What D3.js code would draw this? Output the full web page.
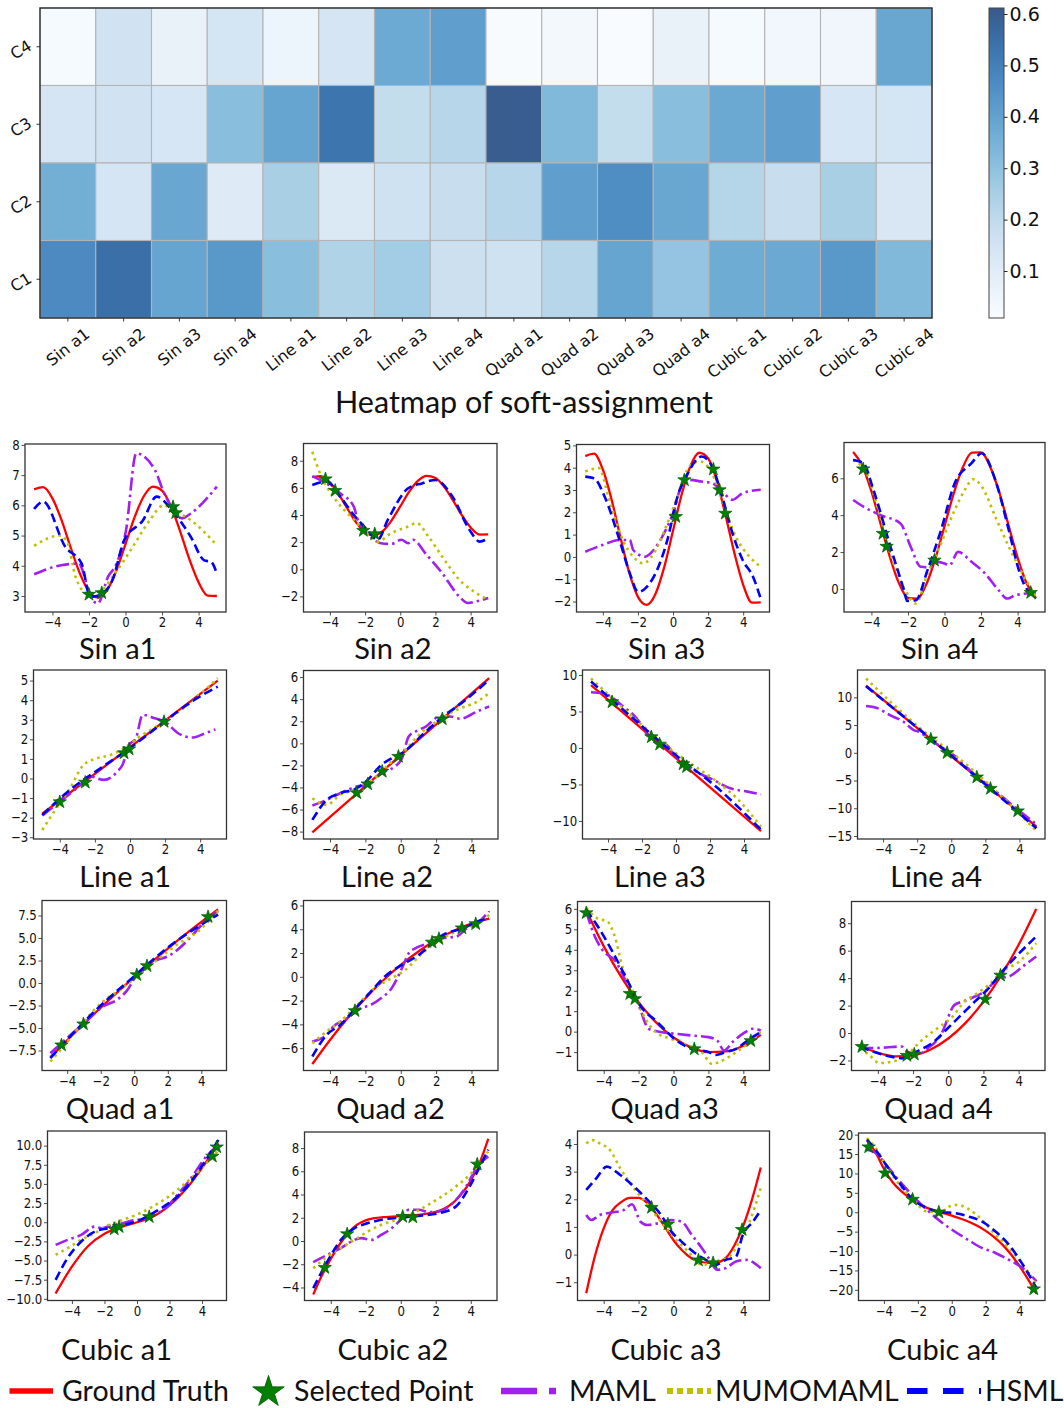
<!DOCTYPE html>
<html><head><meta charset="utf-8">
<script src="https://cdn.jsdelivr.net/npm/d3@7"></script>
<style>body{margin:0;background:#fff}</style>
</head><body><svg id="chart" width="1064" height="1408"></svg>
<script>
// ---------------- Heatmap data ----------------
const heatCols = ["Sin a1","Sin a2","Sin a3","Sin a4","Line a1","Line a2","Line a3","Line a4","Quad a1","Quad a2","Quad a3","Quad a4","Cubic a1","Cubic a2","Cubic a3","Cubic a4"];
const heatRows = ["C4","C3","C2","C1"];
const heatC4 = [0.02,0.155,0.07,0.145,0.05,0.14,0.375,0.41,0.015,0.03,0.012,0.07,0.02,0.035,0.04,0.385];
const heatC3 = [0.14,0.155,0.135,0.31,0.39,0.53,0.19,0.22,0.60,0.33,0.19,0.31,0.38,0.41,0.135,0.145];
const heatC2 = [0.36,0.14,0.385,0.11,0.25,0.12,0.16,0.18,0.22,0.41,0.46,0.385,0.225,0.18,0.25,0.13];
const heatC1 = [0.47,0.55,0.39,0.43,0.31,0.235,0.26,0.17,0.16,0.22,0.39,0.29,0.37,0.38,0.43,0.33];
const cbarTicks = [0.1,0.2,0.3,0.4,0.5,0.6];
const cbarRange = [0.0086,0.6117];

// ---------------- Regression panels data ----------------
const xTicksPanel = [-4,-2,0,2,4];

const sinA1_gt = [[-5,6.53],[-4.5,6.60],[-4,6.23],[-3.5,5.51],[-3,4.60],[-2.5,3.75],[-2,3.15],[-1.5,2.95],[-1,3.20],[-0.5,3.84],[0,4.72],[0.5,5.61],[1,6.30],[1.5,6.62],[2,6.49],[2.5,5.95],[3,5.12],[3.5,4.21],[4,3.45],[4.5,3.01],[5,3.00]];
const sinA1_hsml = [[-5,5.88],[-4.5,6.12],[-3.3,4.63],[-2.4,4.07],[-1.93,2.97],[-1.46,3.02],[-0.72,3.52],[-0.07,4.85],[0.96,5.51],[1.7,6.29],[2.54,5.84],[3.57,4.96],[4.31,4.18],[4.68,4.13],[5,3.74]];
const sinA1_mumo = [[-5,4.66],[-3.6,5.0],[-3.19,4.79],[-2.73,3.63],[-2.08,3.08],[-1.33,3.19],[-0.58,3.74],[0.4,4.63],[1.33,5.51],[2.08,6.0],[2.63,5.84],[3.57,5.51],[5,4.68]];
const sinA1_maml = [[-5,3.72],[-3.51,4.02],[-2.54,4.07],[-2.35,3.85],[-1.98,3.08],[-1.52,2.75],[-0.96,3.63],[-0.49,4.07],[0.03,5.18],[0.59,7.72],[1.61,7.17],[2.08,6.45],[2.63,5.84],[3.1,5.57],[3.57,5.73],[5,6.62]];
const sinA1_stars = [[-2.0,3.05],[-1.3,3.1],[2.6,5.95],[2.75,5.75]];
const sinA1_yTicks = [3,4,5,6,7,8];

const sinA2_gt = [[-5,6.79],[-4.5,6.86],[-4,6.41],[-3.5,5.54],[-3,4.46],[-2.5,3.44],[-2,2.73],[-1.5,2.50],[-1,2.81],[-0.5,3.59],[0,4.63],[0.5,5.70],[1,6.52],[1.5,6.89],[2,6.73],[2.5,6.07],[3,5.07],[3.5,3.99],[4,3.08],[4.5,2.56],[5,2.57]];
const sinA2_hsml = [[-5,6.21],[-4.19,6.46],[-3.42,5.35],[-2.64,4.0],[-1.87,2.9],[-1.29,2.17],[-0.71,3.64],[0.45,5.97],[1.23,6.33],[2.0,6.58],[2.97,5.35],[3.94,2.9],[4.52,2.04],[5,2.29]];
const sinA2_mumo = [[-5,8.66],[-4.48,6.82],[-3.8,5.35],[-2.64,3.64],[-1.68,2.41],[-1.29,2.04],[-0.51,2.66],[0.45,3.15],[0.94,3.4],[1.6,2.41],[2.38,0.94],[3.35,-0.77],[4.32,-1.75],[5,-2.25]];
const sinA2_maml = [[-5,6.87],[-4.19,6.33],[-3.42,5.6],[-2.64,4.62],[-2.45,3.76],[-1.87,2.66],[-1.1,1.92],[-0.51,1.87],[0.07,2.17],[0.45,1.92],[0.74,2.17],[1.42,1.19],[2.38,-0.28],[3.35,-2.0],[3.84,-2.49],[4.32,-2.37],[5,-2.12]];
const sinA2_stars = [[-4.25,6.65],[-3.7,5.8],[-2.1,2.85],[-1.45,2.6]];
const sinA2_yTicks = [-2,0,2,4,6,8];

const sinA3_gt = [[-5,4.52],[-4.5,4.63],[-4,3.92],[-3.5,2.57],[-3,0.89],[-2.5,-0.69],[-2,-1.79],[-1.5,-2.15],[-1,-1.66],[-0.5,-0.46],[0,1.17],[0.5,2.82],[1,4.09],[1.5,4.67],[2,4.42],[2.5,3.40],[3,1.85],[3.5,0.17],[4,-1.25],[4.5,-2.05],[5,-2.04]];
const sinA3_hsml = [[-5,3.6],[-4.5,3.53],[-3.9,2.71],[-3.05,0.76],[-2.46,-0.74],[-1.98,-1.57],[-1.49,-1.34],[-0.91,-0.59],[-0.32,0.76],[0.26,2.71],[0.85,3.76],[1.63,4.5],[2.22,4.06],[2.8,2.71],[3.39,1.06],[3.97,-0.14],[4.56,-0.89],[5,-1.87]];
const sinA3_mumo = [[-5,3.83],[-4.22,3.98],[-3.64,2.56],[-2.86,0.76],[-2.27,0.01],[-1.69,-0.29],[-1.1,0.16],[-0.32,1.51],[0.26,2.71],[0.94,4.06],[1.53,4.28],[2.22,3.76],[2.8,2.56],[3.58,0.91],[4.36,0.01],[5,-0.44]];
const sinA3_maml = [[-5,0.23],[-4.03,0.53],[-3.05,0.76],[-2.46,0.76],[-2.27,0.31],[-1.59,0.01],[-1.1,0.31],[-0.51,1.06],[0.07,2.11],[0.46,3.16],[0.85,3.46],[1.63,3.38],[2.22,3.31],[2.8,2.93],[3.39,2.56],[3.97,2.86],[5,3.01]];
const sinA3_stars = [[0.16,1.8],[0.65,3.45],[2.3,3.93],[2.65,3.0],[2.98,1.95]];
const sinA3_yTicks = [-2,-1,0,1,2,3,4,5];

const sinA4_gt = [[-5,7.42],[-4.5,6.68],[-4,5.29],[-3.5,3.54],[-3,1.77],[-2.5,0.33],[-2,-0.48],[-1.5,-0.52],[-1,0.24],[-0.5,1.64],[0,3.40],[0.5,5.16],[1,6.59],[1.5,7.39],[2,7.41],[2.5,6.63],[3,5.23],[3.5,3.47],[4,1.70],[4.5,0.29],[5,-0.49]];
const sinA4_hsml = [[-5,6.99],[-4.44,6.82],[-3.89,5.37],[-2.96,2.29],[-2.22,-0.07],[-2.04,-0.65],[-1.57,-0.61],[-0.93,1.02],[-0.19,3.19],[0.56,5.73],[1.48,6.82],[2.04,7.36],[2.78,5.91],[3.52,3.19],[4.07,1.02],[4.35,0.26],[4.72,-0.25],[5,-0.52]];
const sinA4_mumo = [[-5,6.99],[-4.26,6.27],[-3.52,3.92],[-2.78,1.38],[-2.04,-0.25],[-1.57,-0.79],[-0.93,0.84],[-0.19,2.47],[0.56,4.28],[1.11,5.37],[1.57,5.95],[2.04,5.55],[2.78,3.92],[3.52,2.29],[4.26,0.84],[5,-0.43]];
const sinA4_maml = [[-5,4.82],[-4.44,4.46],[-3.52,4.01],[-2.41,3.55],[-1.85,2.29],[-1.3,1.2],[-0.74,1.16],[-0.37,1.47],[0,1.38],[0.28,1.29],[0.74,2.01],[1.48,1.47],[2.22,0.84],[2.96,-0.07],[3.43,-0.52],[3.89,-0.34],[5,-0.21]];
const sinA4_stars = [[-4.45,6.5],[-3.37,3.0],[-3.17,2.3],[-0.55,1.55],[4.72,-0.2]];
const sinA4_yTicks = [0,2,4,6];

const lineA1_gt = [[-5,-1.8],[5,5.0]];
const lineA1_hsml = [[-5,-1.86],[-3.42,-0.58],[-1.69,0.52],[-0.14,1.46],[1.97,2.91],[3.52,3.93],[5,4.69]];
const lineA1_mumo = [[-5,-2.63],[-4.2,-1.52],[-3.42,-0.5],[-2.65,0.69],[-1.88,1.03],[-1.11,1.2],[-0.34,1.54],[0.43,2.06],[1.97,2.91],[3.52,3.93],[5,5.12]];
const lineA1_maml = [[-5,-1.89],[-4,-1.18],[-3.03,-0.5],[-2.26,0.1],[-1.49,-0.07],[-0.72,0.35],[-0.43,0.69],[-0.05,1.71],[0.34,2.06],[0.72,3.25],[1.4,3.08],[1.97,2.91],[2.74,2.31],[3.52,2.09],[4.29,2.31],[4.87,2.51]];
const lineA1_stars = [[-4,-1.2],[-2.55,-0.2],[-0.34,1.3],[-0.05,1.5],[1.94,2.9]];
const lineA1_yTicks = [-3,-2,-1,0,1,2,3,4,5];

const lineA2_gt = [[-5,-8.06],[5,5.91]];
const lineA2_hsml = [[-5,-6.94],[-4.19,-5.13],[-3.42,-4.52],[-2.49,-4.07],[-1.87,-3.31],[-1.09,-1.95],[-0.51,-1.35],[0.07,-0.89],[1.42,1.07],[2.39,2.43],[3.55,3.79],[5,5.76]];
const lineA2_mumo = [[-5,-4.98],[-4.19,-5.58],[-3.42,-4.67],[-2.45,-4.07],[-1.48,-3.16],[-0.51,-1.65],[0.26,-0.59],[1.03,0.77],[2.2,2.13],[3.17,3.04],[4.33,3.79],[5,4.55]];
const lineA2_maml = [[-5,-5.64],[-4.19,-5.13],[-3.42,-4.52],[-2.49,-3.92],[-1.87,-3.77],[-1.48,-3.16],[-0.9,-2.56],[-0.32,-2.1],[0.07,-1.35],[0.45,0.62],[0.84,1.07],[1.42,1.52],[2.2,2.43],[2.78,2.43],[3.36,2.22],[4.33,2.89],[5,3.34]];
const lineA2_stars = [[-2.49,-4.5],[-1.87,-3.7],[-1.05,-2.55],[-0.13,-1.2],[2.35,2.2]];
const lineA2_yTicks = [-8,-6,-4,-2,0,2,4,6];

const lineA3_gt = [[-5,8.6],[5,-11.4]];
const lineA3_hsml = [[-5,9.1],[-2.5,4.0],[0,-1.0],[2.5,-5.6],[5,-11.2]];
const lineA3_mumo = [[-5,9.54],[-2.34,3.84],[0,-0.73],[2.4,-4.61],[3.58,-6.9],[5,-10.8]];
const lineA3_maml = [[-5,7.63],[-4.3,7.5],[-3.7,6.8],[-3.1,5.66],[-2.5,4.52],[-2.1,3.38],[-1.75,2.0],[-1.15,1.1],[-0.45,0.18],[-0.2,-0.73],[0.42,-1.87],[1.2,-3.24],[2.2,-4.38],[3.2,-5.53],[4.2,-5.98],[5,-6.35]];
const lineA3_stars = [[-3.76,6.3],[-1.45,1.5],[-0.96,0.5],[0.42,-2.2],[0.62,-2.6]];
const lineA3_yTicks = [-10,-5,0,5,10];

const lineA4_gt = [[-5,12.1],[5,-13.3]];
const lineA4_hsml = [[-5,12.0],[0,-0.5],[5,-13.6]];
const lineA4_mumo = [[-5,13.4],[-3.5,9.0],[-1.5,3.6],[0,0.1],[2.5,-6.5],[5,-14.1]];
const lineA4_maml = [[-5,8.44],[-4.4,8.14],[-3.6,6.8],[-2.8,5.6],[-2.2,4.1],[-1.9,3.8],[-1.2,2.3],[-0.6,1.1],[0,-0.1],[1.4,-4.0],[2.4,-6.4],[3.8,-10.0],[5,-12.9]];
const lineA4_stars = [[-1.2,2.45],[-0.24,0.0],[1.5,-4.4],[2.3,-6.45],[3.9,-10.5]];
const lineA4_yTicks = [-15,-10,-5,0,5,10];

const quadA1_gt = [[-5,-8.25],[-4,-6.36],[-3,-4.52],[-2,-2.75],[-1,-1.02],[0,0.65],[1,2.27],[2,3.83],[3,5.34],[4,6.79],[5,8.19]];
const quadA1_hsml = [[-5,-8.35],[-2,-2.5],[0,0.75],[2,3.95],[3.5,5.9],[5,7.6]];
const quadA1_mumo = [[-5,-8.72],[-4.3,-7.24],[-3.09,-4.46],[-1.87,-2.06],[-0.86,-0.76],[0.15,0.72],[1.37,2.57],[2.58,4.31],[3.8,5.72],[5,8.02]];
const quadA1_maml = [[-5,-7.8],[-3.9,-5.94],[-2.88,-4.28],[-1.87,-2.61],[-1.06,-1.9],[-0.46,-0.9],[0.15,0.91],[0.76,2.02],[1.37,2.57],[1.97,2.94],[2.58,3.69],[3.4,5.17],[4.2,6.83],[5,8.02]];
const quadA1_stars = [[-4.34,-6.9],[-3.03,-4.57],[0.15,0.9],[0.76,1.9],[4.4,7.35]];
const quadA1_yTicks = [-7.5,-5,-2.5,0,2.5,5,7.5];

const quadA2_gt = [[-5,-7.34],[-4,-5.31],[-3,-3.47],[-2,-1.80],[-1,-0.31],[0,1.0],[1,2.13],[2,3.09],[3,3.87],[4,4.47],[5,4.89]];
const quadA2_hsml = [[-5,-6.7],[-4.19,-4.88],[-3.42,-4.04],[-2.64,-2.78],[-1.68,-1.23],[-0.9,0.03],[0.07,1.01],[1.03,1.85],[2.39,3.53],[3.55,4.09],[4.33,4.65],[5,4.93]];
const quadA2_mumo = [[-5,-5.58],[-4.19,-4.6],[-3.42,-3.76],[-2.45,-2.35],[-1.48,-0.95],[-0.51,-0.11],[0.26,0.59],[1.23,1.99],[2.39,3.25],[3.55,4.09],[4.33,4.51],[5,5.21]];
const quadA2_maml = [[-5,-5.44],[-4.19,-4.88],[-3.8,-4.18],[-3.03,-3.48],[-2.26,-2.64],[-1.68,-2.35],[-1.1,-1.79],[-0.51,-0.95],[0.07,0.73],[0.45,1.99],[0.84,2.41],[1.6,2.83],[2.39,3.25],[3.16,3.39],[3.74,4.09],[4.33,4.51],[5,5.55]];
const quadA2_stars = [[-2.59,-2.86],[1.77,2.9],[2.16,3.2],[3.46,4.1],[4.24,4.45]];
const quadA2_yTicks = [-6,-4,-2,0,2,4,6];

const quadA3_gt = [[-5,5.93],[-4,4.18],[-3,2.68],[-2,1.44],[-1,0.45],[0,-0.29],[1,-0.77],[2,-1.0],[3,-0.97],[4,-0.69],[5,-0.16]];
const quadA3_hsml = [[-5,5.95],[-4.27,5.05],[-3.49,3.9],[-2.7,2.6],[-1.92,1.29],[-0.93,0.47],[0.05,-0.35],[1.03,-0.84],[2.01,-1.0],[2.41,-1.14],[2.99,-1.0],[3.59,-0.84],[4.37,-0.35],[5,-0.02]];
const quadA3_mumo = [[-5,6.03],[-4.37,5.54],[-3.78,5.38],[-3.39,4.72],[-2.9,3.09],[-2.31,1.94],[-1.72,0.8],[-1.03,-0.02],[-0.15,-0.35],[0.84,-0.68],[1.62,-1.0],[2.21,-1.58],[2.8,-1.41],[3.59,-1.0],[4.37,-0.51],[5,-0.02]];
const quadA3_maml = [[-5,5.87],[-4.46,4.56],[-4.07,3.99],[-3.29,3.41],[-2.7,2.43],[-2.31,1.94],[-1.92,1.12],[-1.43,0.14],[-0.74,-0.02],[0.05,-0.1],[1.03,-0.19],[2.01,-0.27],[2.5,-0.43],[2.9,-0.92],[3.39,-0.51],[3.98,-0.1],[4.57,0.14],[5,0.06]];
const quadA3_stars = [[-5,5.8],[-2.5,1.85],[-2.21,1.6],[1.19,-0.85],[4.43,-0.45]];
const quadA3_yTicks = [-1,0,1,2,3,4,5,6];

const quadA4_gt = [[-5,-0.95],[-4,-1.45],[-3,-1.70],[-2,-1.63],[-1,-1.20],[0,-0.40],[1,0.76],[2,2.29],[3,4.18],[4,6.43],[5,9.04]];
const quadA4_hsml = [[-5,-0.98],[-4.3,-1.34],[-3.32,-1.71],[-2.55,-1.83],[-1.77,-1.34],[-0.8,-0.62],[-0.03,0.35],[0.75,1.33],[1.52,2.3],[2.3,3.27],[3.07,4.48],[4.04,5.82],[5,7.03]];
const quadA4_mumo = [[-5,-1.1],[-4.5,-1.59],[-3.92,-2.19],[-3.13,-2.07],[-2.35,-1.59],[-1.58,-0.62],[-0.61,0.35],[0.16,1.08],[0.94,2.3],[1.52,2.78],[2.3,3.51],[3.07,4.48],[4.04,5.21],[5,6.54]];
const quadA4_maml = [[-5,-1.05],[-4.3,-1.1],[-3.53,-1.05],[-2.65,-0.98],[-2.35,-1.34],[-1.77,-1.59],[-1.19,-1.15],[-0.42,-0.13],[0.36,2.05],[0.85,2.3],[1.52,2.66],[2.1,3.03],[2.88,4.0],[3.46,4.12],[4.23,4.84],[5,5.57]];
const quadA4_stars = [[-4.91,-1.0],[-2.35,-1.65],[-1.93,-1.55],[2.1,2.45],[2.97,4.2]];
const quadA4_yTicks = [-2,0,2,4,6,8];

const cubicA1_gt = [[-5,-9.3],[-4,-5.8],[-3,-3.1],[-2,-1.5],[-1,-0.65],[0,0.0],[1,0.75],[2,2.2],[3,4.3],[4,7.1],[5,10.3]];
const cubicA1_hsml = [[-5,-7.52],[-4.27,-4.7],[-3.43,-2.52],[-2.59,-1.22],[-1.74,-0.78],[-0.9,-0.35],[-0.05,0.09],[0.79,0.96],[1.64,2.04],[2.48,3.35],[3.32,5.3],[4.17,7.91],[5,10.74]];
const cubicA1_mumo = [[-5,-4.26],[-4.27,-3.39],[-3.43,-2.3],[-2.59,-1.43],[-1.74,-0.35],[-0.9,0.3],[-0.05,0.96],[0.79,1.83],[1.64,2.91],[2.48,4.22],[3.32,5.74],[4.17,7.48],[5,9.43]];
const cubicA1_maml = [[-5,-2.96],[-4.27,-2.3],[-3.43,-1.65],[-2.59,-0.57],[-2.17,-0.78],[-1.53,-0.35],[-0.9,-0.13],[-0.05,0.3],[0.37,0.3],[0.79,0.96],[1.64,1.61],[2.48,3.57],[3.32,5.74],[4.17,8.35],[5,10.09]];
const cubicA1_stars = [[-1.4,-0.9],[-1.1,-0.6],[0.75,0.7],[4.63,8.6],[4.9,9.8]];
const cubicA1_yTicks = [-10,-7.5,-5,-2.5,0,2.5,5,7.5,10];

const cubicA2_gt = [[-5,-4.6],[-4.5,-2.95],[-4,-1.55],[-3.5,-0.3],[-3,0.7],[-2.5,1.4],[-2,1.78],[-1.5,1.97],[-1,2.05],[-0.5,2.1],[0,2.15],[0.5,2.2],[1,2.25],[1.5,2.35],[2,2.5],[2.5,2.8],[3,3.3],[3.5,4.1],[4,5.2],[4.5,6.7],[5,8.8]];
const cubicA2_hsml = [[-5,-4.06],[-4.19,-1.76],[-3.42,0.1],[-2.64,1.11],[-1.87,1.54],[-1.1,1.83],[0.07,2.03],[1.23,2.2],[2.2,2.4],[3.16,2.98],[3.94,4.7],[4.52,6.42],[5,7.86]];
const cubicA2_mumo = [[-5,-2.34],[-4.19,-1.33],[-3.42,-0.61],[-2.64,0.1],[-1.87,0.82],[-1.1,1.4],[0.07,1.97],[1.23,2.83],[2.2,3.69],[3.16,4.7],[3.94,5.7],[4.52,6.71],[5,7.71]];
const cubicA2_maml = [[-5,-1.82],[-4.19,-1.19],[-3.42,-0.61],[-2.64,0.1],[-2.26,0.25],[-1.68,0.1],[-1.1,0.54],[-0.51,1.11],[0.07,1.97],[0.45,2.69],[1.03,2.69],[1.62,2.49],[2.2,2.55],[2.97,3.26],[3.74,4.7],[4.32,6.28],[5,7.28]];
const cubicA2_stars = [[-4.34,-2.3],[-3.06,0.6],[0.11,2.1],[0.69,2.05],[4.37,6.6]];
const cubicA2_yTicks = [-4,-2,0,2,4,6,8];

const cubicA3_gt = [[-5,-1.4],[-4.5,-0.05],[-4,0.95],[-3.5,1.6],[-3,1.9],[-2.5,2.05],[-2,2.05],[-1.5,1.86],[-1,1.48],[-0.5,1.0],[0,0.52],[0.5,0.15],[1,-0.12],[1.5,-0.25],[2,-0.3],[2.5,-0.28],[3,-0.12],[3.5,0.35],[4,1.05],[4.5,2.0],[5,3.15]];
const cubicA3_hsml = [[-5,2.34],[-4.42,2.76],[-3.83,3.18],[-3.05,2.88],[-2.27,2.46],[-1.49,1.98],[-0.71,1.43],[-0.12,0.83],[0.46,0.47],[1.24,0.05],[2.02,-0.25],[2.41,-0.37],[2.99,-0.19],[3.58,-0.07],[3.97,0.71],[4.55,1.19],[5,1.61]];
const cubicA3_mumo = [[-5,4.02],[-4.62,4.14],[-4.22,4.02],[-3.64,3.78],[-3.05,3.12],[-2.27,2.4],[-1.49,1.8],[-0.71,1.19],[0.07,0.59],[0.85,0.11],[1.63,-0.37],[2.41,-0.25],[3.19,-0.07],[3.77,0.47],[4.36,1.19],[5,2.42]];
const cubicA3_maml = [[-5,1.43],[-4.71,1.25],[-4.22,1.43],[-3.44,1.53],[-2.86,1.61],[-2.38,1.82],[-1.89,1.19],[-1.49,1.07],[-0.91,1.13],[-0.12,1.25],[0.46,1.19],[1.05,0.71],[1.63,0.23],[2.02,-0.13],[2.5,-0.55],[2.99,-0.49],[3.58,-0.25],[4.16,-0.19],[5,-0.49]];
const cubicA3_stars = [[-1.26,1.7],[-0.32,1.1],[1.43,-0.2],[2.27,-0.3],[3.93,0.9]];
const cubicA3_yTicks = [-1,0,1,2,3,4];

const cubicA4_gt = [[-5,18.5],[-4.5,15.5],[-4,11.2],[-3.5,7.8],[-3,5.5],[-2.5,3.8],[-2,2.4],[-1.5,1.2],[-1,0.45],[-0.5,-0.2],[0,-0.85],[0.5,-1.6],[1,-2.45],[1.5,-3.5],[2,-4.8],[2.5,-6.4],[3,-8.4],[3.5,-10.9],[4,-13.9],[4.5,-17.3],[5,-21.0]];
const cubicA4_hsml = [[-5,18.7],[-4.49,16.1],[-3.89,12.3],[-3.08,7.5],[-2.27,3.2],[-1.46,1.1],[-0.66,0.04],[0.15,-0.2],[0.96,-1.07],[1.77,-2.37],[2.58,-4.95],[3.38,-8.4],[4.19,-13.5],[5,-19.6]];
const cubicA4_mumo = [[-5,19.1],[-4.49,16.6],[-3.89,12.3],[-3.08,7.1],[-2.27,3.2],[-1.46,0.2],[-0.66,0.04],[-0.15,1.5],[0.35,1.9],[0.96,0.9],[1.77,-1.9],[2.58,-5.8],[3.38,-9.2],[4.19,-13.5],[5,-18.7]];
const cubicA4_maml = [[-5,16.1],[-4.49,15.3],[-3.89,12.3],[-3.08,8.0],[-2.27,4.1],[-1.46,0.6],[-0.66,-2.4],[0.15,-4.9],[0.96,-7.1],[1.77,-9.2],[2.58,-10.5],[3.38,-12.3],[4.19,-14.4],[5,-17.8]];
const cubicA4_stars = [[-4.9,16.8],[-3.93,10.1],[-2.31,3.3],[-0.76,0.0],[4.84,-19.8]];
const cubicA4_yTicks = [-20,-15,-10,-5,0,5,10,15,20];

const legendLabels = ["Ground Truth","Selected Point","MAML","MUMOMAML","HSML"];

const panels = [
  {name:"Sin a1", gt:sinA1_gt, hsml:sinA1_hsml, mumo:sinA1_mumo, maml:sinA1_maml, stars:sinA1_stars, yTicks:sinA1_yTicks},
  {name:"Sin a2", gt:sinA2_gt, hsml:sinA2_hsml, mumo:sinA2_mumo, maml:sinA2_maml, stars:sinA2_stars, yTicks:sinA2_yTicks},
  {name:"Sin a3", gt:sinA3_gt, hsml:sinA3_hsml, mumo:sinA3_mumo, maml:sinA3_maml, stars:sinA3_stars, yTicks:sinA3_yTicks},
  {name:"Sin a4", gt:sinA4_gt, hsml:sinA4_hsml, mumo:sinA4_mumo, maml:sinA4_maml, stars:sinA4_stars, yTicks:sinA4_yTicks},
  {name:"Line a1", gt:lineA1_gt, hsml:lineA1_hsml, mumo:lineA1_mumo, maml:lineA1_maml, stars:lineA1_stars, yTicks:lineA1_yTicks},
  {name:"Line a2", gt:lineA2_gt, hsml:lineA2_hsml, mumo:lineA2_mumo, maml:lineA2_maml, stars:lineA2_stars, yTicks:lineA2_yTicks},
  {name:"Line a3", gt:lineA3_gt, hsml:lineA3_hsml, mumo:lineA3_mumo, maml:lineA3_maml, stars:lineA3_stars, yTicks:lineA3_yTicks},
  {name:"Line a4", gt:lineA4_gt, hsml:lineA4_hsml, mumo:lineA4_mumo, maml:lineA4_maml, stars:lineA4_stars, yTicks:lineA4_yTicks},
  {name:"Quad a1", gt:quadA1_gt, hsml:quadA1_hsml, mumo:quadA1_mumo, maml:quadA1_maml, stars:quadA1_stars, yTicks:quadA1_yTicks},
  {name:"Quad a2", gt:quadA2_gt, hsml:quadA2_hsml, mumo:quadA2_mumo, maml:quadA2_maml, stars:quadA2_stars, yTicks:quadA2_yTicks},
  {name:"Quad a3", gt:quadA3_gt, hsml:quadA3_hsml, mumo:quadA3_mumo, maml:quadA3_maml, stars:quadA3_stars, yTicks:quadA3_yTicks},
  {name:"Quad a4", gt:quadA4_gt, hsml:quadA4_hsml, mumo:quadA4_mumo, maml:quadA4_maml, stars:quadA4_stars, yTicks:quadA4_yTicks},
  {name:"Cubic a1", gt:cubicA1_gt, hsml:cubicA1_hsml, mumo:cubicA1_mumo, maml:cubicA1_maml, stars:cubicA1_stars, yTicks:cubicA1_yTicks},
  {name:"Cubic a2", gt:cubicA2_gt, hsml:cubicA2_hsml, mumo:cubicA2_mumo, maml:cubicA2_maml, stars:cubicA2_stars, yTicks:cubicA2_yTicks},
  {name:"Cubic a3", gt:cubicA3_gt, hsml:cubicA3_hsml, mumo:cubicA3_mumo, maml:cubicA3_maml, stars:cubicA3_stars, yTicks:cubicA3_yTicks},
  {name:"Cubic a4", gt:cubicA4_gt, hsml:cubicA4_hsml, mumo:cubicA4_mumo, maml:cubicA4_maml, stars:cubicA4_stars, yTicks:cubicA4_yTicks}
];

// ---------------- Layout (positions / scales config) ----------------
const layout = {
  boxes: [
    [25,226,444,612],[303.5,497,443.5,612],[576.5,769.5,444.5,612],[844,1045,442.5,612],
    [33.5,226.5,670,839],[303.5,498,670.5,839],[582.5,769.5,670,839],[857.5,1045,670,839],
    [42,226.5,900.5,1070.5],[303.5,498,900.5,1070.5],[577.5,769.5,901.5,1070.5],[851.5,1045,901.5,1070.5],
    [47.5,226.5,1131,1300.5],[304.5,497,1132,1300.5],[577.5,769.5,1131,1300.5],[858.5,1045,1133,1300.5]
  ],
  yDomains: [
    [2.47,8.03],[-3.15,9.27],[-2.47,5.04],[-1.25,7.94],
    [-3.09,5.54],[-8.67,6.6],[-12.47,10.68],[-15.54,14.93],
    [-9.72,9.17],[-7.88,6.42],[-1.9,6.36],[-2.73,9.58],
    [-10.22,11.91],[-5.12,9.38],[-1.66,4.47],[-22.75,20.43]
  ],
  yFormats: ["d","d","d","d","d","d","d","d",".1f","d","d","d",".1f","d","d","d"],
  titles: [
    [117.7,659],[392.9,659],[666.7,659],[939.6,659],
    [125.2,886.5],[387.1,886.5],[659.9,886.5],[936.2,886.5],
    [120,1119],[390.5,1119],[664.7,1119],[938.5,1119],
    [116.6,1360],[392.9,1360],[666,1360],[942.6,1360]
  ],
  xDomain: [-5.5,5.5]
};

const COL = {gt:"#ff0000", maml:"#a020f0", mumo:"#bfbf00", hsml:"#0000ff", star:"#008000"};
const titleFont = "Lato, 'Open Sans', sans-serif";
const tickFont = "'DejaVu Sans', sans-serif";

const svg = d3.select("#chart");
svg.append("rect").attr("width",1064).attr("height",1408).attr("fill","#fff");

// ---------------- Heatmap ----------------
const hm = {x0:40, x1:932, y0:8, y1:318};
const xb = d3.scaleBand().domain(heatCols).range([hm.x0,hm.x1]);
const yb = d3.scaleBand().domain(heatRows).range([hm.y0,hm.y1]);
const cnorm = d3.scaleLinear().domain(cbarRange).range([0,1]).clamp(true);
function heatColor(v){
  const c = d3.rgb(d3.interpolateBlues(cnorm(v)));
  const a = 0.8;
  return d3.rgb(a*c.r+(1-a)*255, a*c.g+(1-a)*255, a*c.b+(1-a)*255).formatHex();
}
const rowVals = {C4:heatC4, C3:heatC3, C2:heatC2, C1:heatC1};
const cells = [];
heatRows.forEach(r => heatCols.forEach((c,i) => cells.push({r, c, v: rowVals[r][i]})));
const hg = svg.append("g");
hg.selectAll("rect.cell").data(cells).join("rect")
  .attr("class","cell")
  .attr("x", d => xb(d.c)).attr("y", d => yb(d.r))
  .attr("width", xb.bandwidth()).attr("height", yb.bandwidth())
  .attr("fill", d => heatColor(d.v))
  .attr("stroke","#b4b4b4").attr("stroke-width",1.1);
hg.append("rect").attr("x",hm.x0).attr("y",hm.y0).attr("width",hm.x1-hm.x0).attr("height",hm.y1-hm.y0)
  .attr("fill","none").attr("stroke","#222").attr("stroke-width",1.3);
hg.selectAll("line.xt").data(heatCols).join("line")
  .attr("x1", d => xb(d)+xb.bandwidth()/2).attr("x2", d => xb(d)+xb.bandwidth()/2)
  .attr("y1", hm.y1).attr("y2", hm.y1+3.5).attr("stroke","#222").attr("stroke-width",0.9);
hg.selectAll("line.yt").data(heatRows).join("line")
  .attr("y1", d => yb(d)+yb.bandwidth()/2).attr("y2", d => yb(d)+yb.bandwidth()/2)
  .attr("x1", hm.x0).attr("x2", hm.x0-3.5).attr("stroke","#222").attr("stroke-width",0.9);
const xang = 38;
hg.selectAll("text.xl").data(heatCols).join("text")
  .attr("class","xl")
  .attr("font-family",tickFont).attr("font-size",16).attr("fill","#111")
  .attr("text-anchor","middle").attr("dominant-baseline","central")
  .text(d => d)
  .each(function(d){
    const w = this.getComputedTextLength();
    const a = xang*Math.PI/180;
    const bh = w*Math.sin(a) + 17*Math.cos(a);
    d3.select(this).attr("transform", `translate(${xb(d)+xb.bandwidth()/2},${325+bh/2}) rotate(${-xang})`);
  });
hg.selectAll("text.yl").data(heatRows).join("text")
  .attr("font-family",tickFont).attr("font-size",16).attr("fill","#111")
  .attr("text-anchor","middle").attr("dominant-baseline","central")
  .attr("transform", d => `translate(21,${yb(d)+yb.bandwidth()/2+3}) rotate(-32)`)
  .text(d => d);
svg.append("text").attr("x",524).attr("y",412.5).attr("text-anchor","middle")
  .attr("font-family",titleFont).attr("font-size",30.5).attr("fill","#111")
  .text("Heatmap of soft-assignment");

// colorbar
const cb = {x0:989, x1:1004, y0:8, y1:318};
const cy = d3.scaleLinear().domain(cbarRange).range([cb.y1,cb.y0]);
const defs = svg.append("defs");
const grad = defs.append("linearGradient").attr("id","cbgrad").attr("x1",0).attr("y1",1).attr("x2",0).attr("y2",0);
d3.range(0,1.0001,0.05).forEach(t => {
  const v = cbarRange[0] + t*(cbarRange[1]-cbarRange[0]);
  grad.append("stop").attr("offset", t).attr("stop-color", heatColor(v));
});
svg.append("rect").attr("x",cb.x0).attr("y",cb.y0).attr("width",cb.x1-cb.x0).attr("height",cb.y1-cb.y0)
  .attr("fill","url(#cbgrad)").attr("stroke","#444").attr("stroke-width",1);
const cbAxis = svg.append("g").attr("transform",`translate(${cb.x1},0)`)
  .call(d3.axisRight(cy).tickValues(cbarTicks).tickFormat(d3.format(".1f")).tickSize(3.5).tickPadding(2));
cbAxis.select(".domain").remove();
cbAxis.selectAll("text").attr("font-family",tickFont).attr("font-size",19).attr("fill","#111");
cbAxis.selectAll("line").attr("stroke","#222");

// ---------------- Panels ----------------
panels.forEach((p, i) => {
  const [bx0,bx1,by0,by1] = layout.boxes[i];
  const x = d3.scaleLinear().domain(layout.xDomain).range([bx0,bx1]);
  const y = d3.scaleLinear().domain(layout.yDomains[i]).range([by1,by0]);
  const g = svg.append("g");
  const cid = "clip"+i;
  defs.append("clipPath").attr("id",cid).append("rect")
    .attr("x",bx0).attr("y",by0).attr("width",bx1-bx0).attr("height",by1-by0);
  const line = d3.line().x(d => x(d[0])).y(d => y(d[1])).curve(d3.curveMonotoneX);
  const lg = g.append("g").attr("clip-path",`url(#${cid})`);
  lg.append("path").datum(p.gt).attr("d",line).attr("fill","none")
    .attr("stroke",COL.gt).attr("stroke-width",2.3);
  lg.append("path").datum(p.maml).attr("d",line).attr("fill","none")
    .attr("stroke",COL.maml).attr("stroke-width",2.6).attr("stroke-dasharray","13,4,2.5,4");
  lg.append("path").datum(p.mumo).attr("d",line).attr("fill","none")
    .attr("stroke",COL.mumo).attr("stroke-width",2.6).attr("stroke-dasharray","2.6,4");
  lg.append("path").datum(p.hsml).attr("d",line).attr("fill","none")
    .attr("stroke",COL.hsml).attr("stroke-width",2.6).attr("stroke-dasharray","9,4.5");
  lg.selectAll("path.star").data(p.stars).join("path").attr("class","star")
    .attr("d", d3.symbol(d3.symbolStar, 55))
    .attr("transform", d => `translate(${x(d[0])},${y(d[1])})`)
    .attr("fill",COL.star).attr("stroke","#005a00").attr("stroke-width",0.7);
  const ax = g.append("g").attr("transform",`translate(0,${by1})`)
    .call(d3.axisBottom(x).tickValues(xTicksPanel).tickFormat(d3.format("d")).tickSize(3.5).tickPadding(2));
  const ay = g.append("g").attr("transform",`translate(${bx0},0)`)
    .call(d3.axisLeft(y).tickValues(p.yTicks).tickFormat(d3.format(layout.yFormats[i])).tickSize(3.5).tickPadding(2.5));
  [ax,ay].forEach(a => {
    a.select(".domain").remove();
    a.selectAll("text").attr("font-family",tickFont).attr("font-size",13.5).attr("fill","#111")
      .attr("transform","scale(0.87,1)");
    a.selectAll("line").attr("stroke","#222").attr("stroke-width",0.8);
  });
  g.append("rect").attr("x",bx0).attr("y",by0).attr("width",bx1-bx0).attr("height",by1-by0)
    .attr("fill","none").attr("stroke","#333").attr("stroke-width",1.3);
  g.append("text").attr("x",layout.titles[i][0]).attr("y",layout.titles[i][1])
    .attr("text-anchor","middle").attr("font-family",titleFont).attr("font-size",29).attr("fill","#111")
    .text(p.name);
});

// ---------------- Legend ----------------
const leg = svg.append("g");
const ly = 1391;
const lt = 1401;
leg.append("line").attr("x1",9.5).attr("x2",53).attr("y1",ly).attr("y2",ly)
  .attr("stroke",COL.gt).attr("stroke-width",5.5);
leg.append("text").attr("x",62).attr("y",lt).text(legendLabels[0]);
leg.append("path").attr("d", d3.symbol(d3.symbolStar, 310))
  .attr("transform",`translate(268.5,${ly+1})`).attr("fill",COL.star).attr("stroke","#005a00").attr("stroke-width",0.8);
leg.append("text").attr("x",294).attr("y",lt).text(legendLabels[1]);
leg.append("line").attr("x1",501).attr("x2",556).attr("y1",ly).attr("y2",ly)
  .attr("stroke",COL.maml).attr("stroke-width",6.5).attr("stroke-dasharray","36,12,7,100");
leg.append("text").attr("x",569).attr("y",lt).text(legendLabels[2]);
leg.append("line").attr("x1",667).attr("x2",711).attr("y1",ly).attr("y2",ly)
  .attr("stroke",COL.mumo).attr("stroke-width",6).attr("stroke-dasharray","6,4");
leg.append("text").attr("x",715).attr("y",lt).text(legendLabels[3]);
leg.append("line").attr("x1",907).attr("x2",981).attr("y1",ly).attr("y2",ly)
  .attr("stroke",COL.hsml).attr("stroke-width",6).attr("stroke-dasharray","20.5,15.5");
leg.append("text").attr("x",985).attr("y",lt).text(legendLabels[4]);
leg.selectAll("text").attr("font-family",titleFont).attr("font-size",28.5).attr("fill","#111");
</script></body></html>
